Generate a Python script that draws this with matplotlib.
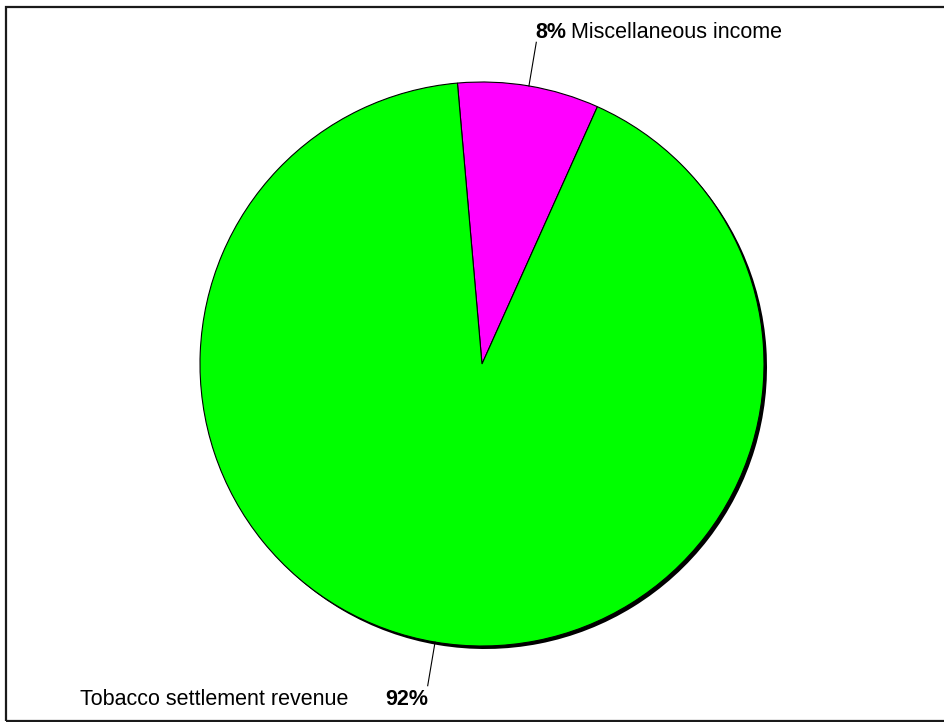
import numpy as np
import matplotlib
matplotlib.use("Agg")
import matplotlib.pyplot as plt
from matplotlib.patches import Rectangle

# Data
categories = ["Miscellaneous income", "Tobacco settlement revenue"]
values = [8.1, 91.9]
pct_labels = ["8%", "92%"]
colors = ["#FF00FF", "#00FF00"]

W, H = 945, 722
fig = plt.figure(figsize=(W / 100, H / 100), dpi=100)
ax = fig.add_axes([0, 0, 1, 1])

cx, cy = 482, H - 364
R = 282
start = 95

# shadow
ax.pie(values, colors=["black", "black"], startangle=start, counterclock=False,
       radius=R, center=(cx + 3, cy - 3), frame=True,
       wedgeprops=dict(linewidth=0))
wedges, _ = ax.pie(values, colors=colors, startangle=start, counterclock=False,
                   radius=R, center=(cx, cy), frame=True,
                   wedgeprops=dict(edgecolor="black", linewidth=0.8))
ax.set_xlim(0, W)
ax.set_ylim(0, H)
ax.set_aspect("equal")
ax.axis("off")

font = dict(family=["Liberation Sans", "DejaVu Sans"], fontsize=15.5)

for w, cat, pl in zip(wedges, categories, pct_labels):
    mid = np.deg2rad((w.theta1 + w.theta2) / 2)
    x0, y0 = cx + R * np.cos(mid), cy + R * np.sin(mid)
    x1, y1 = cx + 1.157 * R * np.cos(mid), cy + 1.157 * R * np.sin(mid)
    ax.plot([x0, x1], [y0, y1], color="black", lw=0.8)
    if np.sin(mid) > 0:
        ax.text(x1 - 1, H - 37.5, pl, ha="left", va="baseline",
                fontweight="bold", **font)
        ax.text(x1 + 35, H - 37.5, cat, ha="left", va="baseline", **font)
    else:
        ax.text(x1 + 1, H - 705, pl, ha="right", va="baseline",
                fontweight="bold", **font)
        ax.text(348, H - 705, cat, ha="right", va="baseline", **font)

# frame (right side runs off the image)
fig.patches.append(Rectangle((6.5 / W, 1 - 720.5 / H), 1.05, (720.5 - 6.5) / H,
                             transform=fig.transFigure, fill=False,
                             edgecolor="#1a1a1a", linewidth=1.6))

fig.savefig("out.png", dpi=100)
